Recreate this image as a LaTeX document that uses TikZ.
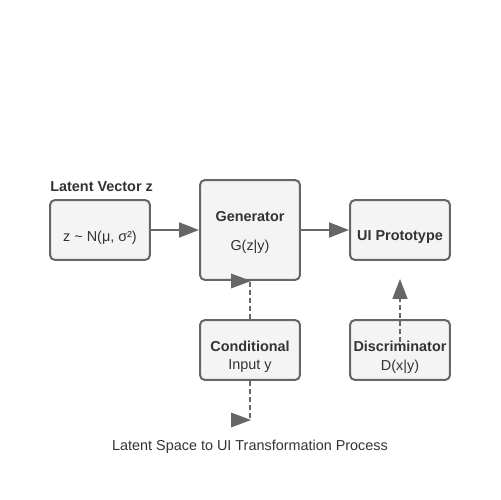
\documentclass[tikz,border=0pt]{standalone}
\usepackage{fontspec}
\setmainfont{Liberation Sans}
\usepackage{tikz}
\usetikzlibrary{arrows.meta}
\definecolor{edgegray}{HTML}{666666}
\definecolor{boxfill}{HTML}{F4F4F4}
\definecolor{textgray}{HTML}{333333}

\tikzset{
   box/.style={
      draw=edgegray,
      fill=boxfill,
      line width = .04cm,
      rounded corners = .1cm,
      minimum width = 2cm,
      minimum height = 1.2cm,
      inner sep = 0pt
   },
   txt/.style={text=textgray, font=\fontsize{8.2}{10}\selectfont, inner sep=0pt, yshift=-.03cm},
   head/.style={txt, font=\fontsize{8.2}{10}\selectfont\bfseries},
   link/.style={draw=edgegray, line width=.04cm, -{Triangle[length=.4cm, width=.3cm]}},
   dashlink/.style={draw=edgegray, line width=.04cm, dash pattern=on .1cm off .06cm}
}

\begin{document}
\begin{tikzpicture}[x=.02cm, y=-.02cm]
   \useasboundingbox (0,0) rectangle (500,500);

   % boxes
   \node[box] (latent) at (100,230) {};
   \node[box, minimum height=2cm] (gen) at (250,230) {};
   \node[box] (ui) at (400,230) {};
   \node[box] (cond) at (250,350) {};
   \node[box] (disc) at (400,350) {};

   \coordinate (condout) at (250,420);
   \coordinate (discout) at (400,279);

   % connectors
   \draw[link] (latent) -- (gen);
   \draw[link] (gen) -- (ui);
   \draw[dashlink] (cond.north) -- (gen.south);
   \draw[dashlink] (cond.south) -- (condout);
   \draw[dashlink, -{Triangle[length=.4cm, width=.3cm]}] (disc.center) -- (discout);

   \foreach \c in {gen.south, condout}
      \fill[edgegray] ([xshift=.02cm]\c) -- ++(-20,-7.5) -- ++(0,15) -- cycle;

   % texts
   \node[head, anchor=west] (latenttitle) at (50,185) {Latent Vector z};
   \node[txt] (latentlbl) at (100,236) {z \textasciitilde{} N(μ, σ²)};
   \node[head] (genname) at (250,215) {Generator};
   \node[txt] (genlbl) at (250,245) {G(z|y)};
   \node[head] (uiname) at (400,236) {UI Prototype};
   \node[head] (condname) at (250,345) {Conditional};
   \node[txt] (condlbl) at (250,365) {Input y};
   \node[head] (discname) at (400,345) {Discriminator};
   \node[txt] (disclbl) at (400,365) {D(x|y)};
   \node[txt] (caption) at (250,445) {Latent Space to UI Transformation Process};

\end{tikzpicture}
\end{document}
